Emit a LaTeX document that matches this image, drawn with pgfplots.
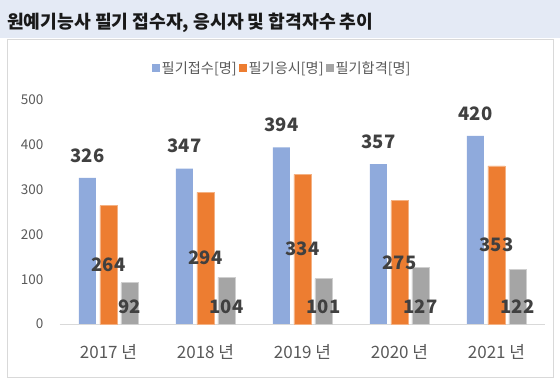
\documentclass[border=0pt]{standalone}
\usepackage{pgfplots}
\pgfplotsset{compat=1.18}
\usepackage{pgfplotstable}
\usepackage{fontspec}
\setmainfont{Noto Sans CJK KR}
\definecolor{cBlue}{HTML}{8FAADC}
\definecolor{cOrange}{HTML}{ED7D31}
\definecolor{cGray}{HTML}{A5A5A5}
\definecolor{cOrangeEdge}{HTML}{F4B183}
\definecolor{cGrayEdge}{HTML}{CFCFCF}
\definecolor{bandc}{HTML}{E4EAF5}
\definecolor{boxc}{HTML}{D9D9D9}
\definecolor{tickc}{HTML}{595959}
\definecolor{labc}{HTML}{404040}

% x, value, label position
\pgfplotstableread{
x v lab
0 326 326
1 347 347
2 394 394
3 357 357
4 420 420
}\applied
\pgfplotstableread{
x v lab
0 264 132
1 294 147
2 334 167
3 275 137.5
4 353 176.5
}\took
\pgfplotstableread{
x v lab
0 92 38
1 104 38
2 101 38
3 127 38
4 122 38
}\passed

\begin{document}
\begin{tikzpicture}[x=1pt,y=1pt]
\useasboundingbox (0,0) rectangle (560,390);
\fill[bandc] (0,352) rectangle (560,390);
\draw[boxc, line width=0.8pt] (7,13) rectangle (553,351);
\node[anchor=west, inner sep=0pt, text=black!90, font=\bfseries\fontsize{18.2}{20}\selectfont] at (7,367.5) {원예기능사 필기 접수자, 응시자 및 합격자수 추이};
\begin{axis}[
  at={(60pt,66pt)}, anchor=south west,
  scale only axis, width=485pt, height=224pt,
  ymin=0, ymax=500, xmin=-0.5, xmax=4.5,
  ybar, bar width=17pt,
  axis line style={draw=none},
  tick style={draw=none},
  ytick={0,100,200,300,400,500},
  yticklabel style={font=\fontsize{13.5}{15}\selectfont, text=tickc, xshift=-13pt},
  /pgf/number format/assume math mode=true,
  xtick={0,1,2,3,4},
  xticklabels={2017 년,2018 년,2019 년,2020 년,2021 년},
  xticklabel style={font=\fontsize{17}{19}\selectfont, text=tickc, yshift=-13pt},
  clip=false,
  legend style={at={(0.458,1.143)}, anchor=center, draw=none, fill=none,
    legend columns=3, font=\fontsize{14.2}{16}\selectfont, text=tickc,
    /tikz/every even column/.append style={column sep=0pt},
    inner sep=0pt},
  legend image code/.code={\fill[#1] (0pt,-4.5pt) rectangle (8pt,3.5pt);},
  every node near coord/.append style={font=\bfseries\fontsize{18.5}{20}\selectfont, text=labc},
]
\draw[boxc, line width=0.8pt] (axis cs:-0.5,0) -- (axis cs:4.5,0);
\addplot[fill=cBlue, draw=none, bar shift=-21pt, forget plot] table[x=x,y=v]{\applied};
\addplot[fill=cOrange, draw=cOrangeEdge, line width=0.6pt, bar shift=0pt, forget plot] table[x=x,y=v]{\took};
\addplot[fill=cGray, draw=cGrayEdge, line width=0.6pt, bar shift=21pt, forget plot] table[x=x,y=v]{\passed};
% labels
\addplot[draw=none, fill=none, bar shift=-21pt, forget plot,
  point meta=explicit, nodes near coords,
  every node near coord/.append style={anchor=south, yshift=12pt}]
  table[x=x,y=lab,meta=v]{\applied};
\addplot[draw=none, fill=none, bar shift=0pt, forget plot,
  point meta=explicit, nodes near coords,
  every node near coord/.append style={anchor=center}]
  table[x=x,y=lab,meta=v]{\took};
\addplot[draw=none, fill=none, bar shift=21pt, forget plot,
  point meta=explicit, nodes near coords,
  every node near coord/.append style={anchor=center}]
  table[x=x,y=lab,meta=v]{\passed};
\addlegendimage{fill=cBlue, draw=none}
\addlegendentry{필기접수[명]}
\addlegendimage{fill=cOrange, draw=none}
\addlegendentry{필기응시[명]}
\addlegendimage{fill=cGray, draw=none}
\addlegendentry{필기합격[명]}
\end{axis}
\end{tikzpicture}
\end{document}
